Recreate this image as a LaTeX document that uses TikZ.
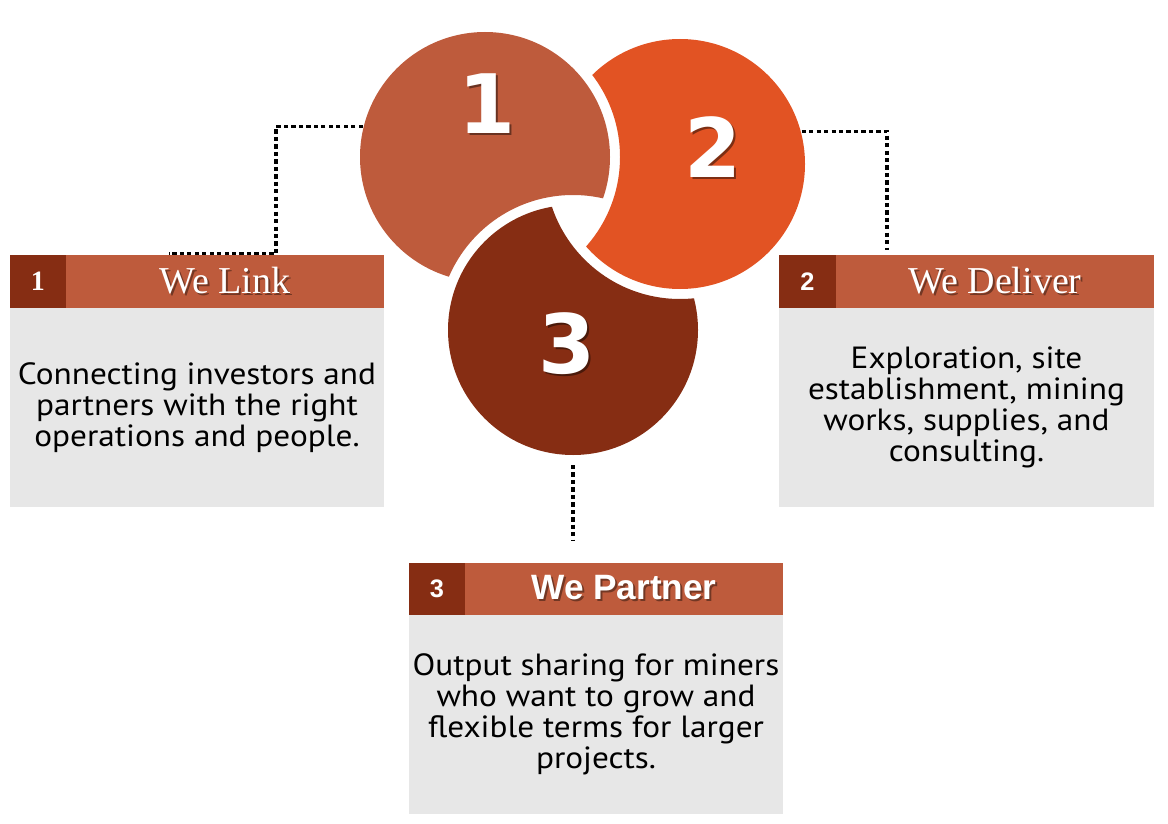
\documentclass[tikz,border=0pt]{standalone}
\usepackage{fontspec}
\setmainfont{PT Sans}[FakeStretch=1.085]
\newfontfamily\titlefont{Liberation Serif}
\newfontfamily\headfont{Liberation Sans}
\newfontfamily\digitfont{DejaVu Sans}
\definecolor{rustlight}{RGB}{190,91,60}
\definecolor{rustbright}{RGB}{226,83,35}
\definecolor{rustdark}{RGB}{134,45,19}
\definecolor{boxgray}{RGB}{231,231,231}
\newcommand\dropshadow[3]{\rlap{\kern#3\raisebox{-#3}{\textcolor{#1}{#2}}}#2}

\begin{document}
\begin{tikzpicture}[x=0.75pt,y=-0.75pt,
  disc/.style={circle,inner sep=0pt,outer sep=0pt,minimum size=202.5pt},
  bignum/.style={font=\digitfont\bfseries\fontsize{61.5}{62}\selectfont,text=white,inner sep=0pt},
  numsq/.style={fill=rustdark,inner sep=0pt,minimum width=42pt,minimum height=39.75pt,text=white},
  titlebar/.style={fill=rustlight,inner sep=0pt,minimum width=238.5pt,minimum height=39.75pt,text=white},
  serifhead/.style={font=\titlefont\fontsize{28.5}{29}\selectfont},
  sanshead/.style={font=\headfont\bfseries\fontsize{26.4}{27}\selectfont},
  bodybox/.style={fill=boxgray,inner sep=0pt,minimum width=280.5pt,minimum height=149.25pt,
    align=center,font=\fontsize{23}{23.25}\selectfont},
  dotline/.style={line width=2.3pt,dash pattern=on 3.2pt off 2.4pt}]
\path (0,0) rectangle (1168,824);
\node[disc] (c1) at (485,157) {};
\node[disc] (c2) at (680,164) {};
\node[disc] (c3) at (573,330) {};
\begin{scope}[even odd rule]
\clip (c3.center) circle (135) (0,0) rectangle (1168,824);
\fill[rustlight] (c1.center) circle (125);
\end{scope}
\begin{scope}[even odd rule]
\clip (c1.center) circle (135) (0,0) rectangle (1168,824);
\fill[rustbright] (c2.center) circle (125);
\end{scope}
\begin{scope}[even odd rule]
\clip (c2.center) circle (135) (0,0) rectangle (1168,824);
\fill[rustdark] (c3.center) circle (125);
\end{scope}
\node[bignum] (d1) at (487,105) {\dropshadow{rustlight!55!black}{1}{1.5pt}};
\node[bignum] (d2) at (713,148) {\dropshadow{rustbright!55!black}{2}{1.5pt}};
\node[bignum] (d3) at (567,345) {\dropshadow{rustdark!55!black}{3}{1.5pt}};
\coordinate (k1) at (276,254);
\coordinate (k1end) at (169,254);
\draw[dotline,shorten <=-7pt] (c1.167) -| (k1) -- (k1end);
\coordinate (k2) at (887,250);
\draw[dotline,shorten <=-7pt] (c2.14) -| (k2);
\coordinate (k3) at (573,540);
\draw[dotline] (c3.south) -- (k3);
\node[numsq] (n1) at (38,281.5) {\titlefont\bfseries\fontsize{21}{21}\selectfont 1};
\node[titlebar,serifhead] (t1) at (225,281.5) {\dropshadow{rustlight!60!black}{We Link}{1.5pt}};
\node[bodybox] (b1) at (197,407.5) {Connecting investors and\\partners with the right\\operations and people.};
\node[numsq,minimum width=42.75pt] (n2) at (807.5,281.5) {\headfont\bfseries\fontsize{19}{19}\selectfont 2};
\node[titlebar,serifhead] (t2) at (995,281.5) {\dropshadow{rustlight!60!black}{We Deliver}{1.5pt}};
\node[bodybox,minimum width=281.25pt] (b2) at (966.5,407.5) {Exploration, site\\establishment, mining\\works, supplies, and\\consulting.};
\node[numsq,minimum height=39pt] (n3) at (437,589) {\headfont\bfseries\fontsize{19}{19}\selectfont 3};
\node[titlebar,sanshead,minimum height=39pt] (t3) at (624,589) {\dropshadow{rustlight!60!black}{We Partner}{1.5pt}};
\node[bodybox] (b3) at (596,714.5) {Output sharing for miners\\who want to grow and\\flexible terms for larger\\projects.};
\end{tikzpicture}
\end{document}
